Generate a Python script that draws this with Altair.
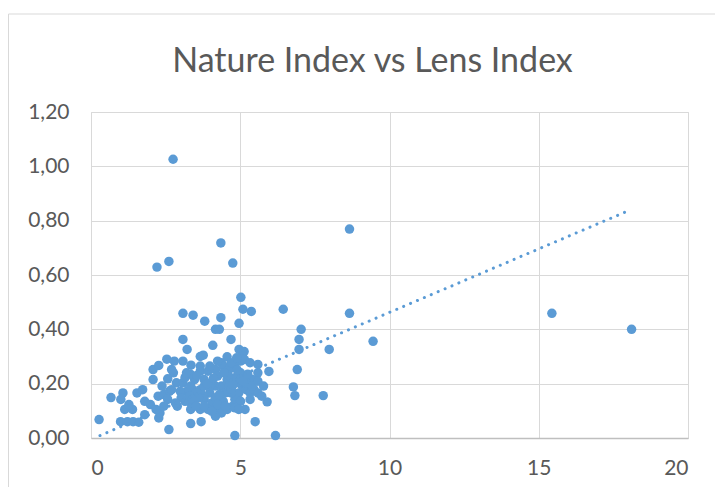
import altair as alt
import pandas as pd

# Lens Index (x) and Nature Index (y)
lens = [
    2.75, 8.66, 4.35, 2.61, 2.21, 4.75, 5.02, 5.09, 5.37, 6.44, 8.66, 15.44, 18.11,
    3.08, 3.42, 3.81, 4.35, 4.17, 4.30, 4.96, 7.04, 6.97, 6.97, 7.98, 9.45,
    3.08, 4.69, 3.22, 4.08, 4.96, 5.13, 3.66, 3.76, 6.91, 6.78, 6.83, 7.78,
    5.96, 5.90, 5.50, 5.16, 4.82, 6.18, 2.61, 3.34, 3.69, 0.27, 0.67, 1.07, 1.00,
    0.99, 1.22, 1.41, 1.60, 1.13, 1.39, 1.27, 1.54, 1.73, 1.80, 2.27, 2.31,
    1.99, 1.80, 2.25, 2.44, 2.63, 2.08, 2.08, 2.27, 2.54, 2.79, 3.08, 3.35,
    2.57, 2.76, 2.89, 3.34,
    3.66, 3.92, 4.17, 4.37, 4.56, 4.82, 5.01, 5.07, 5.14, 5.33, 5.59, 5.59,
    5.40, 5.20, 5.01, 4.82, 4.56, 4.37, 4.17, 3.98, 3.79, 3.66, 3.40, 3.21,
    3.79, 4.05, 4.24, 4.37, 4.17, 4.56, 4.75, 4.82, 4.95, 5.07, 5.20, 5.33,
    5.46, 5.59, 5.72, 5.33, 5.01, 4.82, 3.92, 3.66, 3.34, 3.15, 2.99, 3.47,
    3.79, 4.05, 4.24, 2.86, 3.08, 3.34, 3.53, 3.30, 3.02,
    4.43, 4.62, 4.69, 4.88, 4.50, 4.62, 4.69, 4.43, 4.17, 3.98, 3.79, 3.60,
    3.40, 3.53, 3.79, 4.05, 4.24, 4.50, 4.95, 5.20, 5.40, 4.88, 5.01, 3.34,
    3.15, 3.66, 3.98, 4.24, 5.59, 5.78, 2.70, 2.57, 2.83, 2.44, 2.18, 2.38, 2.70,
    4.60, 4.90, 5.10, 4.70, 5.25, 4.30, 3.90, 4.10, 4.45, 4.75, 3.55, 3.20,
]
nature = [
    1.026, 0.769, 0.718, 0.650, 0.629, 0.644, 0.518, 0.474, 0.466, 0.474, 0.459, 0.459, 0.400,
    0.459, 0.452, 0.430, 0.443, 0.400, 0.400, 0.422, 0.400, 0.363, 0.326, 0.326, 0.356,
    0.363, 0.363, 0.326, 0.341, 0.326, 0.318, 0.300, 0.305, 0.252, 0.188, 0.156, 0.156,
    0.245, 0.133, 0.060, 0.105, 0.009, 0.009, 0.031, 0.053, 0.060, 0.068, 0.149, 0.166, 0.142,
    0.060, 0.060, 0.060, 0.058, 0.105, 0.105, 0.123, 0.166, 0.178, 0.086, 0.074, 0.092,
    0.123, 0.135, 0.154, 0.160, 0.172, 0.215, 0.252, 0.267, 0.290, 0.283, 0.283, 0.268,
    0.218, 0.240, 0.117, 0.105,
    0.246, 0.246, 0.252, 0.277, 0.299, 0.265, 0.283, 0.302, 0.289, 0.277, 0.271, 0.240,
    0.215, 0.228, 0.240, 0.222, 0.215, 0.191, 0.191, 0.166, 0.154, 0.178, 0.178, 0.172,
    0.142, 0.129, 0.111, 0.092, 0.080, 0.105, 0.117, 0.142, 0.166, 0.191, 0.178, 0.166,
    0.178, 0.166, 0.154, 0.142, 0.135, 0.111, 0.105, 0.105, 0.129, 0.135, 0.172, 0.215,
    0.215, 0.203, 0.228, 0.203, 0.203, 0.191, 0.166, 0.154, 0.148,
    0.265, 0.252, 0.277, 0.295, 0.166, 0.191, 0.166, 0.135, 0.148, 0.191, 0.191, 0.148,
    0.142, 0.117, 0.117, 0.098, 0.123, 0.117, 0.105, 0.203, 0.191, 0.203, 0.215, 0.234,
    0.222, 0.265, 0.265, 0.283, 0.209, 0.191, 0.178, 0.142, 0.129, 0.117, 0.105, 0.191, 0.252,
    0.230, 0.250, 0.210, 0.180, 0.235, 0.160, 0.200, 0.220, 0.240, 0.195, 0.230, 0.240,
]

# dotted linear trendline end points
trend_x = [0.30, 17.95]
trend_y = [0.009, 0.834]

x_ticks = [0, 5, 10, 15, 20]
y_ticks = [0.0, 0.2, 0.4, 0.6, 0.8, 1.0, 1.2]

pts = pd.DataFrame({"lens": lens, "nature": nature})
trend = pd.DataFrame({"lens": trend_x, "nature": trend_y})

xs = alt.Scale(domain=[0, 20], nice=False, zero=False)
ys = alt.Scale(domain=[0, 1.2], nice=False, zero=False)

xaxis = alt.Axis(values=x_ticks, title=None, grid=True, gridColor="#D9D9D9", gridWidth=1,
                 domain=True, domainColor="#BFBFBF", domainWidth=1.5, ticks=False,
                 labelPadding=19, labelFontSize=21, labelColor="#595959", labelFont="Lato")
yaxis = alt.Axis(values=y_ticks, title=None, grid=True, gridColor="#D9D9D9", gridWidth=1,
                 domain=False, ticks=False, labelPadding=22, labelFontSize=21,
                 labelColor="#595959", labelFont="Lato",
                 labelExpr="replace(format(datum.value, '.2f'), '.', ',')")

frame = alt.Chart(pd.DataFrame({"a": [0]})).mark_rect(
    fill=None, stroke="#D9D9D9", strokeWidth=1
).encode(x=alt.value(-82.5), x2=alt.value(700), y=alt.value(-98), y2=alt.value(420))

points = alt.Chart(pts).mark_circle(size=90, color="#5B9BD5", opacity=1).encode(
    x=alt.X("lens:Q", scale=xs, axis=xaxis),
    y=alt.Y("nature:Q", scale=ys, axis=yaxis),
)

line = alt.Chart(trend).mark_line(
    color="#5B9BD5", strokeWidth=3, strokeDash=[0.1, 7.4], strokeCap="round"
).encode(x=alt.X("lens:Q", scale=xs), y=alt.Y("nature:Q", scale=ys))

chart = alt.layer(frame, points, line).properties(
    width=597, height=326,
    title=alt.TitleParams("Nature Index vs Lens Index", font="Lato", fontSize=34,
                          fontWeight="normal", color="#595959", anchor="middle",
                          frame="group", offset=-65, dx=-17),
    autosize=alt.AutoSizeParams(type="none"),
    padding={"left": 83, "top": 104, "right": 27, "bottom": 49},
).configure_view(stroke=None).configure(background="white")

chart.save("out.html", embed_options={"renderer": "svg", "actions": False})
